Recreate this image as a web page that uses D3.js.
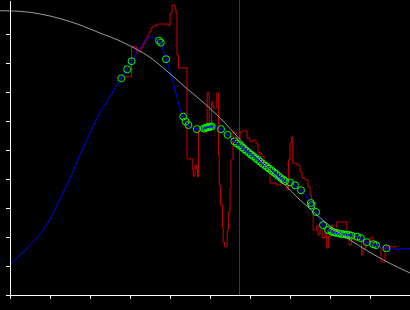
<!DOCTYPE html>
<html><head><meta charset="utf-8">
<script src="https://cdn.jsdelivr.net/npm/d3@7"></script>
<style>html,body{margin:0;padding:0;background:#000;overflow:hidden}svg{display:block}</style>
</head><body>
<svg id="c" width="410" height="310"></svg>
<script>
// ---- data (x in axis units 0..10, y in axis units 0..~10.17) ----
const xTicks = [0,1,2,3,4,5,6,7,8,9,10];
const yTicks = [0,1,2,3,4,5,6,7,8,9];
const markerX = 5.73;

// smooth reference curve (grey)
const refX = [-0.25,0.25,0.75,1.25,1.75,2.25,2.75,3.0,3.375,3.875,4.375,4.875,5.375,5.625,6.0,6.45,6.875,7.2,7.5,8.0,8.5,9.0,9.5,10.0];
const refY = [9.80,9.78,9.69,9.53,9.31,9.03,8.76,8.59,8.31,7.78,7.17,6.59,5.93,5.55,5.0,4.38,3.79,3.34,2.97,2.38,1.90,1.47,1.09,0.76];

// fitted curve (blue)
const fitX = [0.0,0.25,0.5,0.75,1.0,1.25,1.5,1.75,2.0,2.25,2.5,2.78,2.93,3.04,3.275,3.54,3.725,3.9,4.04,4.17,4.275,4.33,4.39,4.46,4.67,4.86,5.02,5.275,5.44,5.61,5.79,6.25,6.875,7.0,7.125,7.275,7.52,7.65,7.83,7.95,8.125,8.5,8.68,8.77,8.92,9.08,9.15,9.41,9.55,10.0];
const fitY = [1.03,1.38,1.72,2.10,2.62,3.31,4.03,4.83,5.59,6.28,6.84,7.47,7.78,8.06,8.59,8.89,8.77,8.13,7.53,6.84,6.32,6.15,5.98,5.86,5.72,5.75,5.82,5.72,5.52,5.30,5.08,4.59,3.93,3.88,3.78,3.61,3.17,2.86,2.41,2.24,2.14,2.05,2.01,1.96,1.82,1.75,1.72,1.61,1.58,1.60];

// observations (green circles)
const obsX = [2.78,2.93,3.04,3.725,3.77,3.90,4.33,4.39,4.46,4.67,4.84,4.89,4.925,4.96,5.0,5.04,5.275,5.44,5.61,
  5.675,5.74,5.80,5.85,5.91,5.975,6.025,6.075,6.14,6.20,6.25,6.31,6.375,6.425,6.475,6.54,6.60,6.65,6.71,6.775,6.825,6.875,
  7.0,7.125,7.275,7.52,7.54,7.65,7.825,7.95,8.04,8.10,8.16,8.225,8.29,8.35,8.41,8.475,8.54,8.68,8.77,8.92,9.08,9.15,9.41];
const obsY = [7.47,7.78,8.06,8.77,8.70,8.13,6.15,5.98,5.86,5.72,5.74,5.76,5.78,5.79,5.80,5.81,5.72,5.52,5.30,
  5.22,5.16,5.09,5.03,4.97,4.90,4.84,4.79,4.72,4.66,4.60,4.53,4.47,4.41,4.36,4.29,4.22,4.17,4.10,4.03,3.98,3.93,
  3.88,3.78,3.61,3.17,3.09,2.86,2.41,2.24,2.19,2.16,2.14,2.12,2.10,2.09,2.08,2.07,2.05,2.01,1.96,1.82,1.75,1.72,1.61];

// raw signal (red, stepped)
const rawX = [2.875,3.04,3.17,3.275,3.325,3.375,3.425,3.475,3.525,3.575,3.675,3.975,4.0,4.05,4.125,4.15,4.175,4.21,4.425,4.57,4.58,4.625,4.66,4.69,4.71,4.93,4.98,5.04,5.075,5.17,5.21,5.23,5.26,5.31,5.33,5.36,5.43,5.46,5.5,5.525,5.575,5.65,5.7,5.75,5.825,5.925,6.0,6.075,6.15,6.2,6.275,6.35,6.425,6.5,6.65,6.775,6.85,6.925,6.96,7.0,7.04,7.07,7.17,7.25,7.3,7.375,7.45,7.5,7.54,7.58,7.67,7.7,7.75,7.8,7.875,7.92,7.96,8.04,8.075,8.17,8.42,8.475,8.54,8.575,8.67,8.79,8.83,8.9,9.0,9.075,9.175,9.25,9.275,9.375,9.67];
const rawY = [7.52,8.55,8.38,8.52,8.66,8.79,8.93,9.07,9.21,9.28,9.34,9.28,9.72,10.0,9.86,9.72,8.28,7.83,4.69,4.31,4.10,4.48,4.34,4.07,5.69,6.97,5.69,6.66,6.45,6.97,4.83,3.79,3.10,2.31,1.83,1.66,2.24,2.86,3.69,4.66,5.62,5.41,5.34,5.62,5.66,5.41,5.28,5.34,5.21,4.90,4.79,4.55,4.45,3.86,3.79,4.03,3.90,3.62,4.66,5.24,5.45,4.55,4.48,4.24,4.03,3.97,3.72,3.45,3.28,2.24,2.41,2.07,2.24,1.97,2.14,1.62,2.03,2.41,2.17,2.52,2.14,1.72,2.0,1.90,1.90,1.38,1.62,1.83,1.97,1.76,1.69,1.66,1.14,1.66,1.66];

// ---- chart ----
const W = 410, H = 310;
const svg = d3.select("#c");
svg.append("rect").attr("width", W).attr("height", H).attr("fill", "#000");

const x = d3.scaleLinear().domain([0, 10]).range([10, 410]);
const y = d3.scaleLinear().domain([0, 10.17]).range([295, 0]);

const ref = refX.map((v, i) => [v, refY[i]]);
const fit = fitX.map((v, i) => [v, fitY[i]]);
const obs = obsX.map((v, i) => [v, obsY[i]]);
const raw = rawX.map((v, i) => [v, rawY[i]]);

const lineSmooth = d3.line().x(d => x(d[0])).y(d => y(d[1])).curve(d3.curveMonotoneX);
const lineStep = d3.line().x(d => x(d[0])).y(d => y(d[1])).curve(d3.curveStepAfter);

// red raw signal
svg.append("path").datum(raw).attr("d", lineStep)
  .attr("fill", "none").attr("stroke", "#cc0000").attr("stroke-width", 1);

// marker vertical line
svg.append("line")
  .attr("x1", Math.round(x(markerX)) + 0.5).attr("x2", Math.round(x(markerX)) + 0.5)
  .attr("y1", y(10.17)).attr("y2", y(0))
  .attr("stroke", "#7a107a").attr("stroke-width", 1);

// blue fit
svg.append("path").datum(fit).attr("d", lineSmooth)
  .attr("fill", "none").attr("stroke", "#0000ff").attr("stroke-width", 1);

// observations
const g = svg.append("g");
g.selectAll("circle.o").data(obs).join("circle").attr("class", "o")
  .attr("cx", d => x(d[0])).attr("cy", d => y(d[1])).attr("r", 3.5)
  .attr("fill", "none").attr("stroke", "#00ff00").attr("stroke-width", 1);
g.selectAll("circle.c").data(obs).join("circle").attr("class", "c")
  .attr("cx", d => x(d[0])).attr("cy", d => y(d[1])).attr("r", 1)
  .attr("fill", "#0000ff");

// grey reference curve
svg.append("path").datum(ref).attr("d", lineSmooth)
  .attr("fill", "none").attr("stroke", "#9a9a9a").attr("stroke-width", 1);

// axes
const xa = svg.append("g").attr("transform", "translate(0,295)")
  .call(d3.axisBottom(x).tickValues(xTicks).tickSize(4).tickSizeOuter(0).tickFormat(""));
const ya = svg.append("g").attr("transform", "translate(10,0)")
  .call(d3.axisLeft(y).tickValues(yTicks).tickSize(4).tickSizeOuter(0).tickFormat(""));
[xa, ya].forEach(a => {
  a.selectAll("path,line").attr("stroke", "#fff").attr("shape-rendering", "crispEdges");
});
</script>
</body></html>
